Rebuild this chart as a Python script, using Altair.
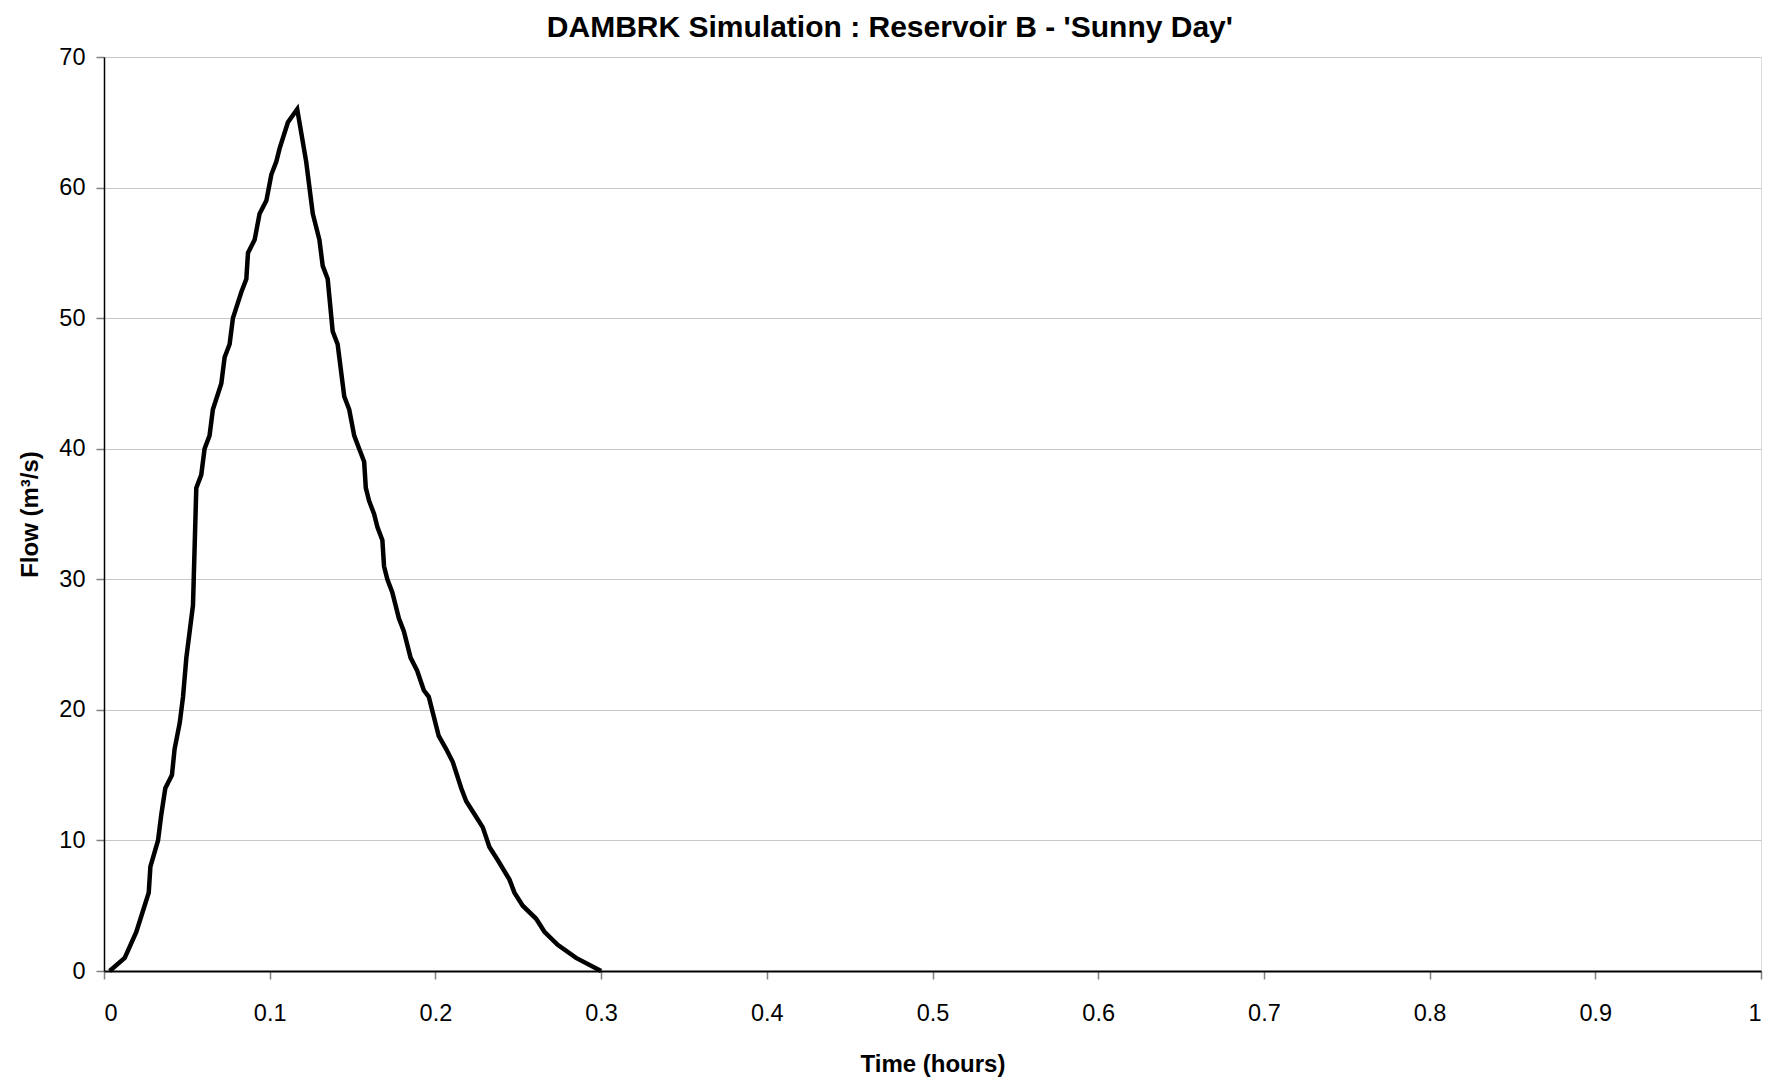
import altair as alt
import pandas as pd

time_hours = [0.0034, 0.0125, 0.0195, 0.0245, 0.027, 0.028, 0.0326, 0.0346, 0.037, 0.041,
              0.0426, 0.0457, 0.0477, 0.0497, 0.0537, 0.0557, 0.0587, 0.0607, 0.0637, 0.0657,
              0.0708, 0.0728, 0.0758, 0.0778, 0.0829, 0.0859, 0.0869, 0.0909, 0.0939, 0.098,
              0.101, 0.104, 0.106, 0.111, 0.1166, 0.122, 0.126, 0.130, 0.132, 0.135,
              0.138, 0.141, 0.145, 0.148, 0.151, 0.154, 0.157, 0.158, 0.160, 0.163,
              0.165, 0.168, 0.169, 0.171, 0.174, 0.178, 0.181, 0.185, 0.189, 0.193,
              0.196, 0.198, 0.202, 0.2065, 0.2105, 0.2156, 0.2186, 0.2236, 0.2286, 0.2326,
              0.2376, 0.2447, 0.2477, 0.2527, 0.2608, 0.2658, 0.2738, 0.2849, 0.300]
flow_m3s = [0, 1, 3, 5, 6, 8, 10, 12, 14, 15,
            17, 19, 21, 24, 28, 37, 38, 40, 41, 43,
            45, 47, 48, 50, 52, 53, 55, 56, 58, 59,
            61, 62, 63, 65, 66, 62, 58, 56, 54, 53,
            49, 48, 44, 43, 41, 40, 39, 37, 36, 35,
            34, 33, 31, 30, 29, 27, 26, 24, 23, 21.5,
            21, 20, 18, 17, 16, 14, 13, 12, 11, 9.5,
            8.5, 7, 6, 5, 4, 3, 2, 1, 0]

x_ticks = [0, 0.1, 0.2, 0.3, 0.4, 0.5, 0.6, 0.7, 0.8, 0.9, 1.0]
y_ticks = [0, 10, 20, 30, 40, 50, 60, 70]

df = pd.DataFrame({"t": time_hours, "q": flow_m3s})

FONT = "Liberation Sans"

chart = (
    alt.Chart(df)
    .mark_line(color="black", strokeWidth=4.5, strokeJoin="miter")
    .encode(
        x=alt.X(
            "t:Q",
            scale=alt.Scale(domain=[0, 1], nice=False, zero=True),
            axis=alt.Axis(
                values=x_ticks,
                format=".1~f",
                title="Time (hours)",
                grid=False,
                domainColor="black",
                domainWidth=2,
                tickColor="#808080",
                tickWidth=1.5,
                tickSize=8,
                labelPadding=22,
                labelFontSize=23.5,
                labelColor="black",
                labelFont=FONT,
                titleFont=FONT,
                titleFontSize=24,
                titleFontWeight="bold",
                titleColor="black",
                titleY=93,
                titleBaseline="middle",
            ),
        ),
        y=alt.Y(
            "q:Q",
            scale=alt.Scale(domain=[0, 70], nice=False),
            axis=alt.Axis(
                values=y_ticks,
                title="Flow (m³/s)",
                grid=True,
                gridColor="#c8c8c8",
                gridWidth=1.2,
                domainColor="black",
                domainWidth=1.5,
                tickColor="#808080",
                tickWidth=1.5,
                tickSize=8,
                labelPadding=11,
                labelFontSize=23.5,
                labelColor="black",
                labelFont=FONT,
                titleFont=FONT,
                titleFontSize=24,
                titleFontWeight="bold",
                titleColor="black",
                titleX=-74,
                titleY=457,
                titleAngle=-90,
                titleBaseline="middle",
                titleAlign="center",
            ),
        ),
    )
    .properties(
        width=1657,
        height=914,
        title=alt.TitleParams(
            text="DAMBRK Simulation : Reservoir B - 'Sunny Day'",
            font=FONT,
            fontSize=30,
            fontWeight="bold",
            color="black",
            anchor="middle",
            frame="bounds",
            offset=2,
        ),
        autosize=alt.AutoSizeParams(type="none"),
        padding={"left": 96, "top": 49, "right": 6, "bottom": 115},
    )
    .configure_view(stroke="#808080", strokeWidth=1.5)
    .configure(background="white")
)

chart.save("out.html", embed_options={"renderer": "svg", "actions": False})
